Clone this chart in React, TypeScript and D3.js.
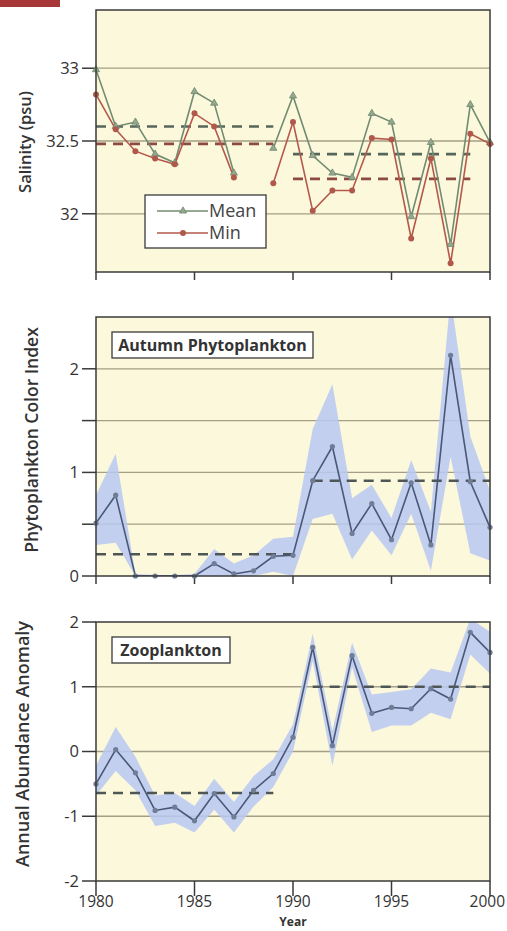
import { useEffect, useRef } from "react";
import * as d3 from "d3";

const years = [1980, 1981, 1982, 1983, 1984, 1985, 1986, 1987, 1988, 1989, 1990, 1991, 1992, 1993, 1994, 1995, 1996, 1997, 1998, 1999, 2000];

// salinity (psu); 1988 missing
const salinityMean = [32.99, 32.6, 32.63, 32.41, 32.35, 32.84, 32.76, 32.28, null, 32.45, 32.81, 32.4, 32.28, 32.25, 32.69, 32.63, 31.98, 32.49, 31.79, 32.75, 32.49];
const salinityMin = [32.82, 32.58, 32.43, 32.38, 32.34, 32.69, 32.6, 32.25, null, 32.21, 32.63, 32.02, 32.16, 32.16, 32.52, 32.51, 31.83, 32.38, 31.66, 32.55, 32.48];
const salinityMeanLevels = [
  { from: 1980, to: 1989, value: 32.6 },
  { from: 1990, to: 1999, value: 32.41 },
];
const salinityMinLevels = [
  { from: 1980, to: 1989, value: 32.48 },
  { from: 1990, to: 1999, value: 32.24 },
];

const phyto = [0.51, 0.78, 0, 0, 0, 0, 0.12, 0.02, 0.05, 0.19, 0.2, 0.92, 1.25, 0.41, 0.7, 0.35, 0.9, 0.3, 2.13, 0.91, 0.47];
const phytoUpper = [0.78, 1.18, 0.02, 0.01, 0.01, 0.02, 0.26, 0.12, 0.2, 0.36, 0.38, 1.42, 1.85, 0.75, 0.88, 0.56, 1.12, 0.62, 2.7, 1.35, 0.82];
const phytoLower = [0.3, 0.32, 0, 0, 0, 0, 0, 0, 0, 0.04, 0, 0.55, 0.6, 0.16, 0.44, 0.2, 0.6, 0.05, 1.15, 0.22, 0.15];
const phytoLevels = [
  { from: 1980, to: 1990, value: 0.21 },
  { from: 1991, to: 2000, value: 0.92 },
];

const zoo = [-0.5, 0.03, -0.33, -0.91, -0.86, -1.07, -0.65, -1.01, -0.6, -0.34, 0.22, 1.61, 0.09, 1.48, 0.59, 0.68, 0.66, 0.97, 0.81, 1.84, 1.53];
const zooUpper = [-0.22, 0.38, -0.08, -0.68, -0.64, -0.84, -0.42, -0.78, -0.38, -0.12, 0.42, 1.82, 0.32, 1.68, 0.88, 0.92, 0.96, 1.28, 1.22, 2.05, 1.85];
const zooLower = [-0.68, -0.3, -0.6, -1.15, -1.1, -1.25, -0.9, -1.25, -0.85, -0.55, 0.0, 1.4, -0.22, 1.3, 0.3, 0.4, 0.4, 0.6, 0.5, 1.5, 1.2];
const zooLevels = [
  { from: 1980, to: 1989, value: -0.64 },
  { from: 1991, to: 2000, value: 1.0 },
];

const xTicks = [1980, 1985, 1990, 1995, 2000];

const BG = "#fcf8dc";
const GRID = "#a49e86";
const FRAME = "#3a3a3a";
const BAND = "#b8c8f2";
const FONT = "'Open Sans', 'Liberation Sans', sans-serif";

export default function App() {
  const svgRef = useRef<SVGSVGElement>(null);

  useEffect(() => {
    if (!svgRef.current) return;
    const svg = d3.select(svgRef.current);
    svg.selectAll("*").remove();

    const left = 96;
    const right = 490;
    const x = d3.scaleLinear().domain([1980, 2000]).range([left, right]);

    // red tag top-left
    svg.append("rect").attr("x", 0).attr("y", 0).attr("width", 60).attr("height", 7).attr("fill", "#a83838");

    function frame(top: number, bottom: number, y: d3.ScaleLinear<number, number>, grid: number[], ticks: number[], labels: number[], fmt: (d: number) => string, id: string, tickLen: number) {
      const g = svg.append("g");
      g.append("rect")
        .attr("x", left).attr("y", top).attr("width", right - left).attr("height", bottom - top)
        .attr("fill", BG);
      grid.forEach((v) => {
        g.append("line")
          .attr("x1", left).attr("x2", right).attr("y1", y(v)).attr("y2", y(v))
          .attr("stroke", GRID).attr("stroke-width", 1.3);
      });
      ticks.forEach((v) => {
        g.append("line")
          .attr("x1", left - 14).attr("x2", left).attr("y1", y(v)).attr("y2", y(v))
          .attr("stroke", FRAME).attr("stroke-width", 1.5);
      });
      labels.forEach((v) => {
        g.append("text")
          .attr("x", left - 17).attr("y", y(v)).attr("dy", "0.35em")
          .attr("text-anchor", "end").attr("font-family", FONT).attr("font-size", 16.5)
          .attr("fill", "#333").text(fmt(v));
      });
      xTicks.forEach((t) => {
        g.append("line")
          .attr("x1", x(t)).attr("x2", x(t)).attr("y1", bottom).attr("y2", bottom + tickLen)
          .attr("stroke", FRAME).attr("stroke-width", 1.5);
      });
      svg.append("clipPath").attr("id", id)
        .append("rect").attr("x", left).attr("y", top).attr("width", right - left).attr("height", bottom - top);
      const inner = svg.append("g").attr("clip-path", `url(#${id})`);
      const border = () =>
        svg.append("rect")
          .attr("x", left).attr("y", top).attr("width", right - left).attr("height", bottom - top)
          .attr("fill", "none").attr("stroke", FRAME).attr("stroke-width", 1.5);
      return { inner, border };
    }

    function levels(g: d3.Selection<SVGGElement, unknown, null, undefined>, y: d3.ScaleLinear<number, number>, list: { from: number; to: number; value: number }[], color: string) {
      list.forEach((l) => {
        g.append("line")
          .attr("x1", x(l.from)).attr("x2", x(l.to)).attr("y1", y(l.value)).attr("y2", y(l.value))
          .attr("stroke", color).attr("stroke-width", 2.6).attr("stroke-dasharray", "10,7");
      });
    }

    function yTitle(text: string, cx: number, cy: number, size: number) {
      svg.append("text")
        .attr("transform", `translate(${cx},${cy}) rotate(-90)`)
        .attr("text-anchor", "middle").attr("dy", "0.35em")
        .attr("font-family", FONT).attr("font-size", size).attr("font-weight", 600)
        .attr("fill", "#333").text(text);
    }

    // ---- Panel 1: salinity
    {
      const y1 = d3.scaleLinear().domain([31.6, 33.4]).range([272, 10]);
      const { inner, border } = frame(10, 272, y1, [32, 32.5, 33], [32, 32.5, 33], [32, 32.5, 33], (d) => String(d), "clip1", 8);
      levels(inner, y1, salinityMeanLevels, "#56665a");
      levels(inner, y1, salinityMinLevels, "#8c4a40");

      const line = d3.line<number | null>()
        .defined((d) => d !== null)
        .x((_, i) => x(years[i]))
        .y((d) => y1(d as number));

      inner.append("path").datum(salinityMean)
        .attr("fill", "none").attr("stroke", "#728c72").attr("stroke-width", 1.6).attr("d", line);
      inner.append("path").datum(salinityMin)
        .attr("fill", "none").attr("stroke", "#b5584b").attr("stroke-width", 1.6).attr("d", line);

      const tri = d3.symbol().type(d3.symbolTriangle).size(22);
      salinityMean.forEach((v, i) => {
        if (v === null) return;
        svg.append("path").attr("d", tri()!)
          .attr("transform", `translate(${x(years[i])},${y1(v)})`)
          .attr("fill", "#94a890").attr("stroke", "#6d866d").attr("stroke-width", 0.8);
      });
      salinityMin.forEach((v, i) => {
        if (v === null) return;
        svg.append("circle").attr("cx", x(years[i])).attr("cy", y1(v)).attr("r", 3)
          .attr("fill", "#b0594b");
      });
      border();

      // legend
      const lg = svg.append("g");
      lg.append("rect").attr("x", 145).attr("y", 195).attr("width", 121).attr("height", 53)
        .attr("fill", "#fff").attr("stroke", FRAME).attr("stroke-width", 1.3);
      [
        { label: "Mean", color: "#728c72", yy: 211, sym: "tri" },
        { label: "Min", color: "#b5584b", yy: 233, sym: "dot" },
      ].forEach((e) => {
        lg.append("line").attr("x1", 157).attr("x2", 208).attr("y1", e.yy).attr("y2", e.yy)
          .attr("stroke", e.color).attr("stroke-width", 1.6);
        if (e.sym === "tri") {
          lg.append("path").attr("d", tri()!).attr("transform", `translate(183,${e.yy})`)
            .attr("fill", "#94a890").attr("stroke", "#6d866d").attr("stroke-width", 0.8);
        } else {
          lg.append("circle").attr("cx", 183).attr("cy", e.yy).attr("r", 3).attr("fill", "#b0594b");
        }
        lg.append("text").attr("x", 209).attr("y", e.yy).attr("dy", "0.35em")
          .attr("font-family", FONT).attr("font-size", 18).attr("fill", "#444").text(e.label);
      });
      yTitle("Salinity (psu)", 25, 142, 16.5);
    }

    function seriesPanel(top: number, bottom: number, domain: [number, number], grid: number[], ticks: number[], labels: number[], values: number[], upper: number[], lower: number[], lv: { from: number; to: number; value: number }[], title: string, boxW: number, id: string, tickLen: number) {
      const y = d3.scaleLinear().domain(domain).range([bottom, top]);
      const { inner, border } = frame(top, bottom, y, grid, ticks, labels, (d) => String(d), id, tickLen);
      const area = d3.area<number>()
        .x((_, i) => x(years[i]))
        .y0((_, i) => y(lower[i]))
        .y1((_, i) => y(upper[i]));
      inner.append("path").datum(upper).attr("d", area)
        .attr("fill", BAND).attr("opacity", 0.85);
      levels(inner, y, lv, "#4e5656");
      const line = d3.line<number>().x((_, i) => x(years[i])).y((d) => y(d));
      inner.append("path").datum(values).attr("d", line)
        .attr("fill", "none").attr("stroke", "#4a5878").attr("stroke-width", 1.6);
      values.forEach((v, i) => {
        svg.append("circle").attr("cx", x(years[i])).attr("cy", y(v)).attr("r", 2.6)
          .attr("fill", "#6f7d96");
      });
      border();
      // title box
      svg.append("rect").attr("x", 112).attr("y", top + 15).attr("width", boxW).attr("height", 26)
        .attr("fill", "#fff").attr("stroke", FRAME).attr("stroke-width", 1.3);
      svg.append("text").attr("x", 112 + boxW / 2).attr("y", top + 28).attr("dy", "0.35em")
        .attr("text-anchor", "middle").attr("font-family", FONT).attr("font-size", 16)
        .attr("font-weight", 700).attr("fill", "#333").text(title);
      return y;
    }

    // ---- Panel 2: phytoplankton
    seriesPanel(317, 576, [0, 2.5], [0.5, 1, 1.5, 2], [0, 0.5, 1, 1.5, 2], [0, 1, 2], phyto, phytoUpper, phytoLower, phytoLevels, "Autumn Phytoplankton", 201, "clip2", 8);
    yTitle("Phytoplankton Color Index", 32, 440, 17.5);

    // ---- Panel 3: zooplankton
    seriesPanel(622, 881, [-2, 2], [-1, 0, 1], [-2, -1, 0, 1, 2], [-2, -1, 0, 1, 2], zoo, zooUpper, zooLower, zooLevels, "Zooplankton", 118, "clip3", 15);
    yTitle("Annual Abundance Anomaly", 23, 744, 18);

    xTicks.forEach((t) => {
      const last = t === 2000;
      svg.append("text").attr("x", last ? 505 : x(t)).attr("y", 907)
        .attr("text-anchor", last ? "end" : "middle").attr("font-family", FONT).attr("font-size", 15.5)
        .attr("fill", "#333").text(String(t));
    });
    svg.append("text").attr("x", x(1990)).attr("y", 926)
      .attr("text-anchor", "middle").attr("font-family", FONT).attr("font-size", 12)
      .attr("font-weight", 700).attr("fill", "#333").text("Year");
  }, []);

  return (
    <svg
      ref={svgRef}
      width={507}
      height={931}
      style={{ position: "absolute", left: 0, top: 0, background: "#fff" }}
    />
  );
}
